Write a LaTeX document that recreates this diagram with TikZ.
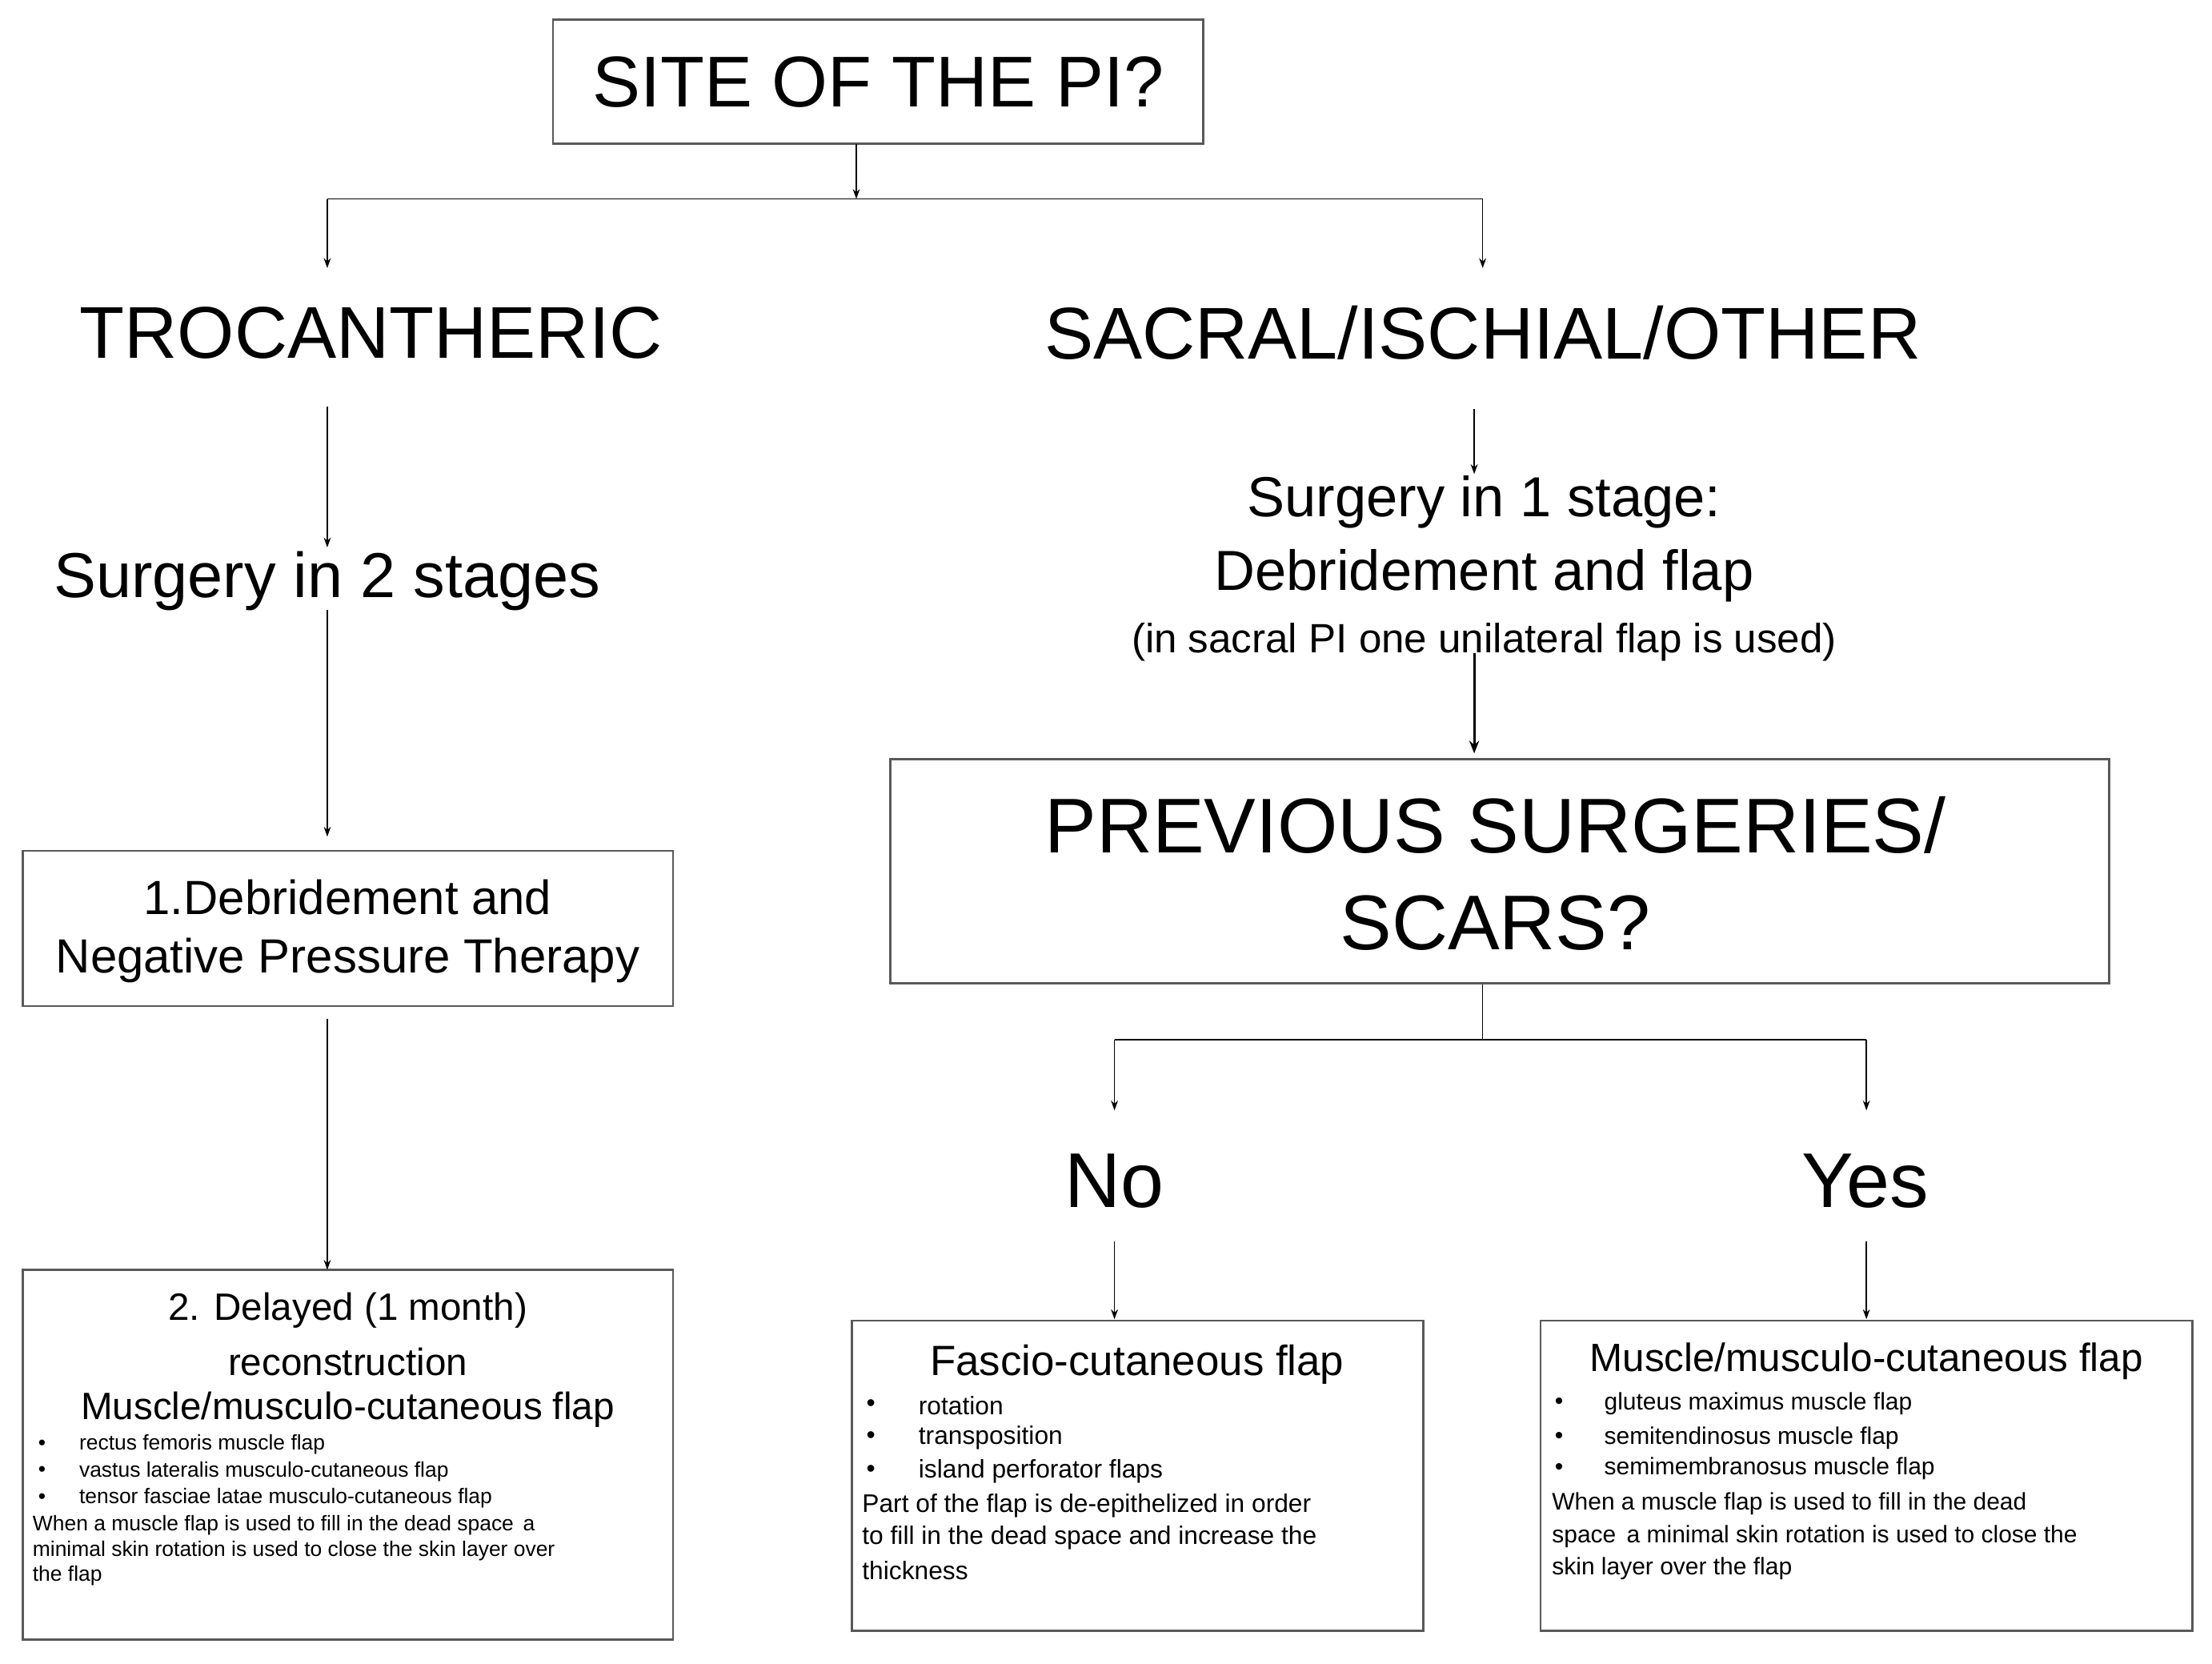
\documentclass[tikz,border=0pt]{standalone}
\usepackage{fontspec}
\setmainfont{Liberation Sans}
\usetikzlibrary{arrows.meta}
\newcommand{\fsz}[1]{\fontsize{#1}{#1}\selectfont}
\begin{document}
\begin{tikzpicture}[x=1pt,y=-1pt,
  box/.style={draw=black!65,line width=1.5pt,inner sep=0pt},
  txt/.style={inner sep=0pt,anchor=center},
  ltxt/.style={inner sep=0pt,anchor=west},
  arr/.style={-{Stealth[length=7pt,width=5pt]},line width=0.8pt},
  ln/.style={line width=0.8pt}]
\useasboundingbox (0,0) rectangle (1568,1179.4);
% top
\node[box,minimum width=461pt,minimum height=88pt] (site) at (622.5,58) {};
\node[txt] (sitet) at (622.5,58) {\fsz{51}SITE OF THE PI?};
\coordinate (j1) at (607,141);
\coordinate (jl) at (232,141);
\coordinate (jr) at (1051,141);
\node[txt] (troc) at (263,236) {\fsz{52}TROCANTHERIC};
\node[txt] (sacr) at (1051,236) {\fsz{52}SACRAL/ISCHIAL/OTHER};
\draw[arr] (607,102) -- (j1);
\draw[ln] (jl) -- (jr);
\draw[arr] (jl) -- (232,190);
\draw[arr] (jr) -- (1051,190);
% left branch
\node[txt] (s2) at (232,412) {\fsz{45}Surgery in 2 stages};
\draw[arr] (232,288) -- (232,388);
\node[box,minimum width=461pt,minimum height=110pt] (b1) at (246.5,658) {};
\node[txt] at (246.5,636) {\fsz{34}1.Debridement and};
\node[txt] at (246.5,681) {\fsz{34}Negative Pressure Therapy};
\draw[ln] (232,432) -- (232,520);
\draw[arr] (232,520) -- (232,593);
\node[box,minimum width=461pt,minimum height=262pt] (b2) at (246.5,1031) {};
\draw[arr] (232,722) -- (232,900);
\node[txt] at (246.5,929) {\fsz{27}2. Delayed (1 month)};
\node[txt] at (246.5,965) {\fsz{27}reconstruction};
\node[txt] at (246.5,999) {\fsz{27}Muscle/musculo-cutaneous flap};
\foreach \yy/\tt in {1024/rectus femoris muscle flap,1043/vastus lateralis musculo-cutaneous flap,1062/tensor fasciae latae musculo-cutaneous flap}{
  \node[ltxt] at (27,\yy) {\fsz{15}\textbullet};
  \node[ltxt] at (56,\yy) {\fsz{15}\tt};}
\foreach \yy/\tt in {1081/When a muscle flap is used to fill in the dead space\, a,1099/minimal skin rotation is used to close the skin layer over,1117/the flap}{
  \node[ltxt] at (23,\yy) {\fsz{15}\tt};}
% right branch
\draw[arr] (1045,290) -- (1045,336);
\node[txt] (s1) at (1052,356) {\fsz{40}Surgery in 1 stage:};
\node[txt] at (1052,408) {\fsz{40}Debridement and flap};
\node[txt] at (1052,455) {\fsz{29}(in sacral PI one unilateral flap is used)};
\node[box,minimum width=864pt,minimum height=159pt] (b3) at (1063,617.5) {};
\draw[-{Stealth[length=9pt,width=7pt]},line width=1.8pt] (1045,463) -- (1045,534);
\node[txt] at (1060,585) {\fsz{55}PREVIOUS SURGERIES/};
\node[txt] at (1060,654) {\fsz{55}SCARS?};
\coordinate (j2) at (1051,737);
\coordinate (jn) at (790,737);
\coordinate (jy) at (1323,737);
\draw[ln] (b3.south -| j2) -- (j2);
\draw[ln] (jn) -- (jy);
\draw[arr] (jn) -- (790,787);
\draw[arr] (jy) -- (1323,787);
\node[txt] (no) at (790,837) {\fsz{55}No};
\node[txt] (yes) at (1322,837) {\fsz{55}Yes};
\node[box,minimum width=405pt,minimum height=220pt] (b4) at (806.5,1046) {};
\node[box,minimum width=462pt,minimum height=220pt] (b5) at (1323,1046) {};
\draw[arr] (790,880) -- (790,935);
\draw[arr] (1323,880) -- (1323,935);
\node[txt] at (806,967) {\fsz{30}Fascio-cutaneous flap};
\foreach \yy/\tt in {996/rotation,1019/transposition,1043/island perforator flaps}{
  \node[ltxt] at (614,\yy) {\fsz{18}\textbullet};
  \node[ltxt] at (651,\yy) {\fsz{18}\tt};}
\foreach \yy/\tt in {1067/Part of the flap is de-epithelized in order,1090/to fill in the dead space and increase the,1113/thickness}{
  \node[ltxt] at (611,\yy) {\fsz{18}\tt};}
\node[txt] at (1323,965) {\fsz{28}Muscle/musculo-cutaneous flap};
\foreach \yy/\tt in {995/gluteus maximus muscle flap,1019/semitendinosus muscle flap,1041/semimembranosus muscle flap}{
  \node[ltxt] at (1102,\yy) {\fsz{17}\textbullet};
  \node[ltxt] at (1137,\yy) {\fsz{17}\tt};}
\foreach \yy/\tt in {1066/When a muscle flap is used to fill in the dead,1089/space\, a minimal skin rotation is used to close the,1112/skin layer over the flap}{
  \node[ltxt] at (1100,\yy) {\fsz{17}\tt};}
\end{tikzpicture}
\end{document}
